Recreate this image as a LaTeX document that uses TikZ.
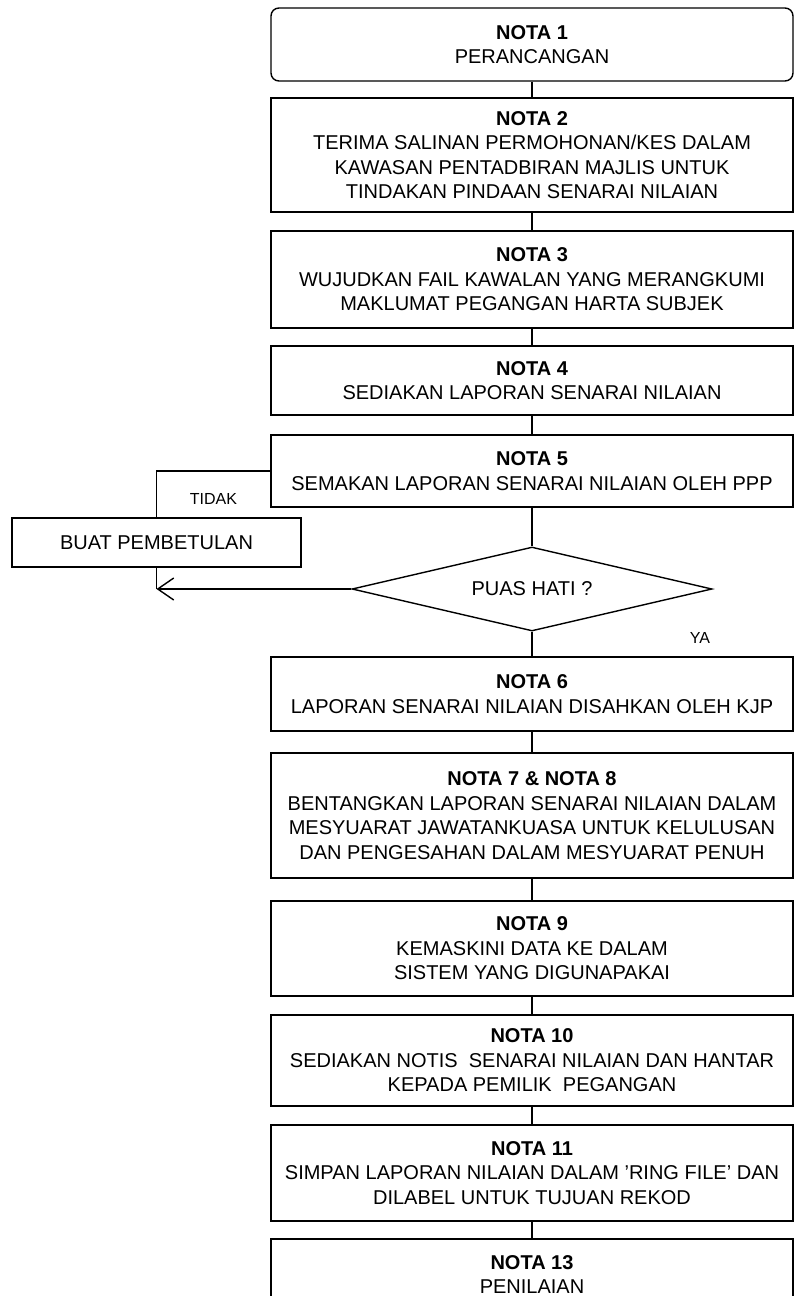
\documentclass[tikz,border=0pt]{standalone}
\usepackage{fontspec}
\setmainfont{Liberation Sans}
\usetikzlibrary{shapes.geometric,arrows.meta}

\begin{document}
\begin{tikzpicture}[x=1pt,y=-1pt,line width=1.4pt,
	box/.style={draw,rectangle,minimum width=522pt,align=center,inner sep=0pt,
		font=\fontsize{20}{24.5}\selectfont},
	startbox/.style={box,rounded corners=8pt},
	decide/.style={draw,diamond,aspect=4.3,minimum width=360pt,minimum height=84pt,inner sep=0pt,
		font=\fontsize{20}{24}\selectfont},
	lbl/.style={inner sep=0pt,font=\fontsize{16}{18}\selectfont}]
	\useasboundingbox (0,0) rectangle (795,1296);
	% main column
	\node[startbox,minimum height=73pt] (n1) at (532,44.5)
		{\textbf{NOTA 1}\\PERANCANGAN};
	\node[box,minimum height=114pt] (n2) at (532,155)
		{\textbf{NOTA 2}\\TERIMA SALINAN PERMOHONAN/KES DALAM\\KAWASAN PENTADBIRAN MAJLIS UNTUK\\TINDAKAN PINDAAN SENARAI NILAIAN};
	\node[box,minimum height=97pt] (n3) at (532,279.5)
		{\textbf{NOTA 3}\\WUJUDKAN FAIL KAWALAN YANG MERANGKUMI\\MAKLUMAT PEGANGAN HARTA SUBJEK};
	\node[box,minimum height=69pt] (n4) at (532,380.5)
		{\textbf{NOTA 4}\\SEDIAKAN LAPORAN SENARAI NILAIAN};
	\node[box,minimum height=72pt] (n5) at (532,471)
		{\textbf{NOTA 5}\\SEMAKAN LAPORAN SENARAI NILAIAN OLEH PPP};
	\node[decide] (dm) at (532,589) {PUAS HATI ?};
	\node[box,minimum height=74pt] (n6) at (532,694)
		{\textbf{NOTA 6}\\LAPORAN SENARAI NILAIAN DISAHKAN OLEH KJP};
	\node[box,minimum height=125pt] (n78) at (532,815.5)
		{\textbf{NOTA 7 \& NOTA 8}\\BENTANGKAN LAPORAN SENARAI NILAIAN DALAM\\MESYUARAT JAWATANKUASA UNTUK KELULUSAN\\DAN PENGESAHAN DALAM MESYUARAT PENUH};
	\node[box,minimum height=95pt] (n9) at (532,948.5)
		{\textbf{NOTA 9}\\KEMASKINI DATA KE DALAM\\SISTEM YANG DIGUNAPAKAI};
	\node[box,minimum height=91pt] (n10) at (532,1060.5)
		{\textbf{NOTA 10}\\SEDIAKAN NOTIS~ SENARAI NILAIAN DAN HANTAR\\KEPADA PEMILIK~ PEGANGAN};
	\node[box,minimum height=96pt] (n11) at (532,1173)
		{\textbf{NOTA 11}\\SIMPAN LAPORAN NILAIAN DALAM ’RING FILE’ DAN\\DILABEL UNTUK TUJUAN REKOD};
	\node[box,minimum height=71pt] (n13) at (532,1274.5)
		{\textbf{NOTA 13}\\PENILAIAN};
	% side loop
	\node[box,minimum width=289pt,minimum height=49pt] (bt) at (156.5,542.5) {BUAT PEMBETULAN};
	\coordinate (back) at (bt.south |- dm.west);

	\path
		(n1) edge (n2)
		(n2) edge (n3)
		(n3) edge (n4)
		(n4) edge (n5)
		(n5) edge (dm)
		(dm) edge node[lbl,pos=.25,xshift=168pt] {YA} (n6)
		(n6) edge (n78)
		(n78) edge (n9)
		(n9) edge (n10)
		(n10) edge (n11)
		(n11) edge (n13);
	\draw (n5) -| node[lbl,pos=.25,below=22pt] {TIDAK} (bt);
	\draw (bt) -- (back);
	\draw[-{Straight Barb[length=16pt,width=22pt]}] (dm) -- (back);
\end{tikzpicture}
\end{document}
